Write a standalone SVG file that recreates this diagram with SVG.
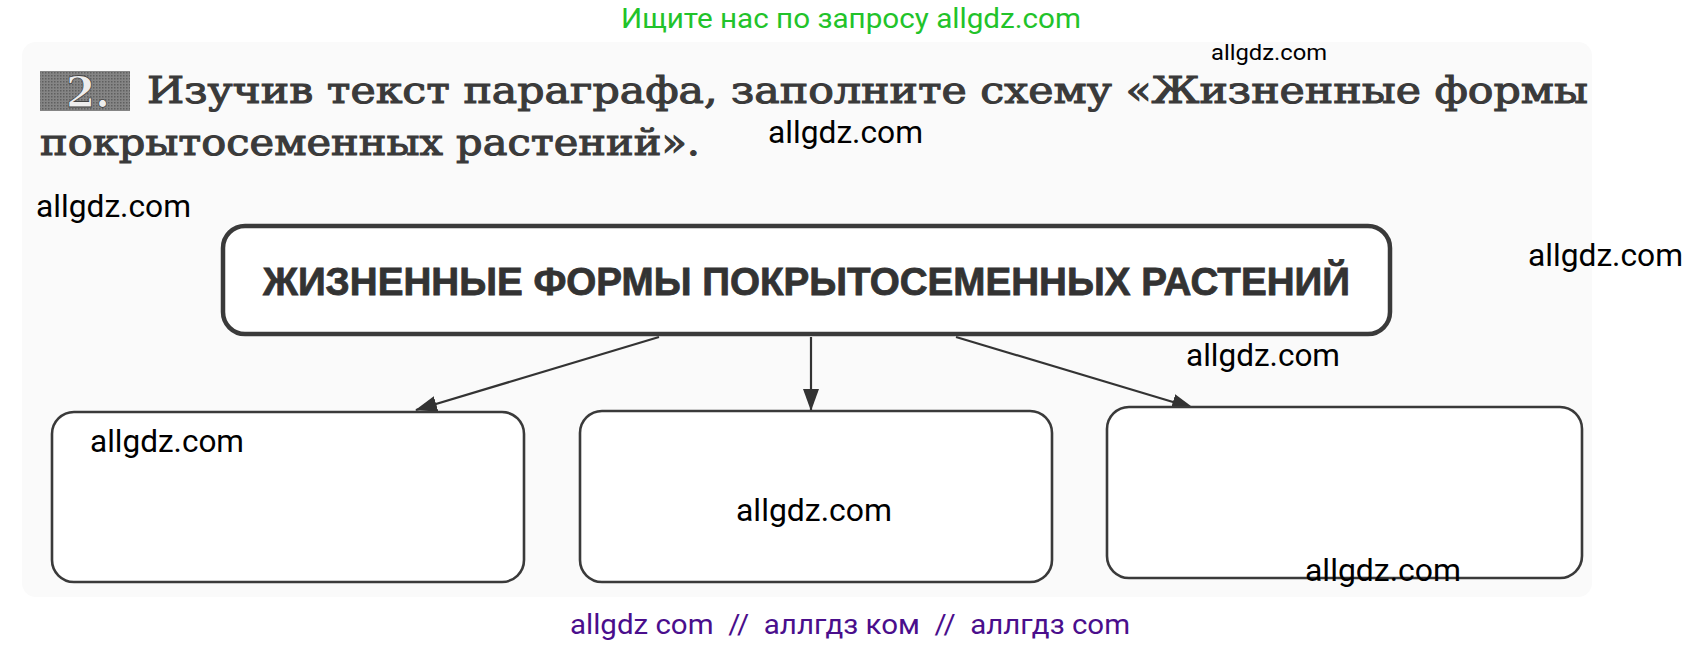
<svg xmlns="http://www.w3.org/2000/svg" width="1703" height="648" viewBox="0 0 1703 648">
<defs>
<style>
.wm{font-family:Roboto,"Liberation Sans",sans-serif;font-size:31px;fill:#000}
.hdr{font-family:"DejaVu Serif","Liberation Serif",serif;font-size:38px;font-weight:normal;fill:#3a3a3a;stroke:#3a3a3a;stroke-width:1.1}
.box{fill:#ffffff;stroke:#3a3a3a;stroke-width:2.6}
.main{fill:#ffffff;stroke:#3a3a3a;stroke-width:4.5}
.conn{stroke:#333;stroke-width:2.2;fill:none}
</style>
<marker id="ah" viewBox="0 0 22 16" refX="21" refY="8" markerWidth="22" markerHeight="16" markerUnits="userSpaceOnUse" orient="auto">
<path d="M0,0 L22,8 L0,16 Z" fill="#333"/>
</marker>
<pattern id="dots" width="3" height="3" patternUnits="userSpaceOnUse">
<rect width="3" height="3" fill="#858585"/>
<rect width="1.5" height="1.5" fill="#5f5f5f"/>
</pattern>
</defs>
<rect width="1703" height="648" fill="#ffffff"/>
<rect x="22" y="42" width="1570" height="555" rx="14" fill="#fafafa"/>

<text x="851" y="28" text-anchor="middle" style="font-family:Roboto,'Liberation Sans',sans-serif;font-size:28px;fill:#22c32a" textLength="460" lengthAdjust="spacingAndGlyphs">Ищите нас по запросу allgdz.com</text>

<g id="heading">
<rect x="40" y="71" width="90" height="40" fill="url(#dots)"/>
<text x="88" y="107" text-anchor="middle" style="font-family:'DejaVu Serif',serif;font-size:42px;font-weight:bold;fill:#ededed;stroke:#444;stroke-width:0.8">2.</text>
<text class="hdr" x="147" y="103" textLength="1441" lengthAdjust="spacingAndGlyphs">Изучив текст параграфа, заполните схему «Жизненные формы</text>
<text class="hdr" x="40" y="155" textLength="660" lengthAdjust="spacingAndGlyphs">покрытосеменных растений».</text>
</g>

<g id="connectors">
<line class="conn" x1="659" y1="337" x2="416" y2="410" marker-end="url(#ah)"/>
<line class="conn" x1="811" y1="337" x2="811" y2="410" marker-end="url(#ah)"/>
<line class="conn" x1="956" y1="337" x2="1193" y2="408" marker-end="url(#ah)"/>
</g>

<g id="node-main">
<rect class="main" x="223" y="226" width="1167" height="108" rx="22"/>
<text x="263" y="295" textLength="1087" lengthAdjust="spacingAndGlyphs" style="font-family:'Liberation Sans',Arial,sans-serif;font-size:38px;font-weight:bold;fill:#333;stroke:#333;stroke-width:0.8">ЖИЗНЕННЫЕ ФОРМЫ ПОКРЫТОСЕМЕННЫХ РАСТЕНИЙ</text>
</g>

<g id="node-left">
<rect class="box" x="52" y="412" width="472" height="170" rx="22"/>
</g>
<g id="node-middle">
<rect class="box" x="580" y="411" width="472" height="171" rx="22"/>
</g>
<g id="node-right">
<rect class="box" x="1107" y="407" width="475" height="171" rx="22"/>
</g>

<g id="watermarks">
<text class="wm" x="1211" y="60" style="font-size:22px" textLength="116" lengthAdjust="spacingAndGlyphs">allgdz.com</text>
<text class="wm" x="768" y="143" textLength="155" lengthAdjust="spacingAndGlyphs">allgdz.com</text>
<text class="wm" x="36" y="217" textLength="155" lengthAdjust="spacingAndGlyphs">allgdz.com</text>
<text class="wm" x="1528" y="266" textLength="155" lengthAdjust="spacingAndGlyphs">allgdz.com</text>
<text class="wm" x="1186" y="366" textLength="154" lengthAdjust="spacingAndGlyphs">allgdz.com</text>
<text class="wm" x="90" y="452" textLength="154" lengthAdjust="spacingAndGlyphs">allgdz.com</text>
<text class="wm" x="736" y="521" textLength="156" lengthAdjust="spacingAndGlyphs">allgdz.com</text>
<text class="wm" x="1305" y="581" textLength="156" lengthAdjust="spacingAndGlyphs">allgdz.com</text>
<text x="570" y="634" xml:space="preserve" textLength="560" lengthAdjust="spacingAndGlyphs" style="font-family:Roboto,'Liberation Sans',sans-serif;font-size:28px;fill:#4a0e8c;white-space:pre">allgdz com  //  аллгдз ком  //  аллгдз com</text>
</g>
</svg>
